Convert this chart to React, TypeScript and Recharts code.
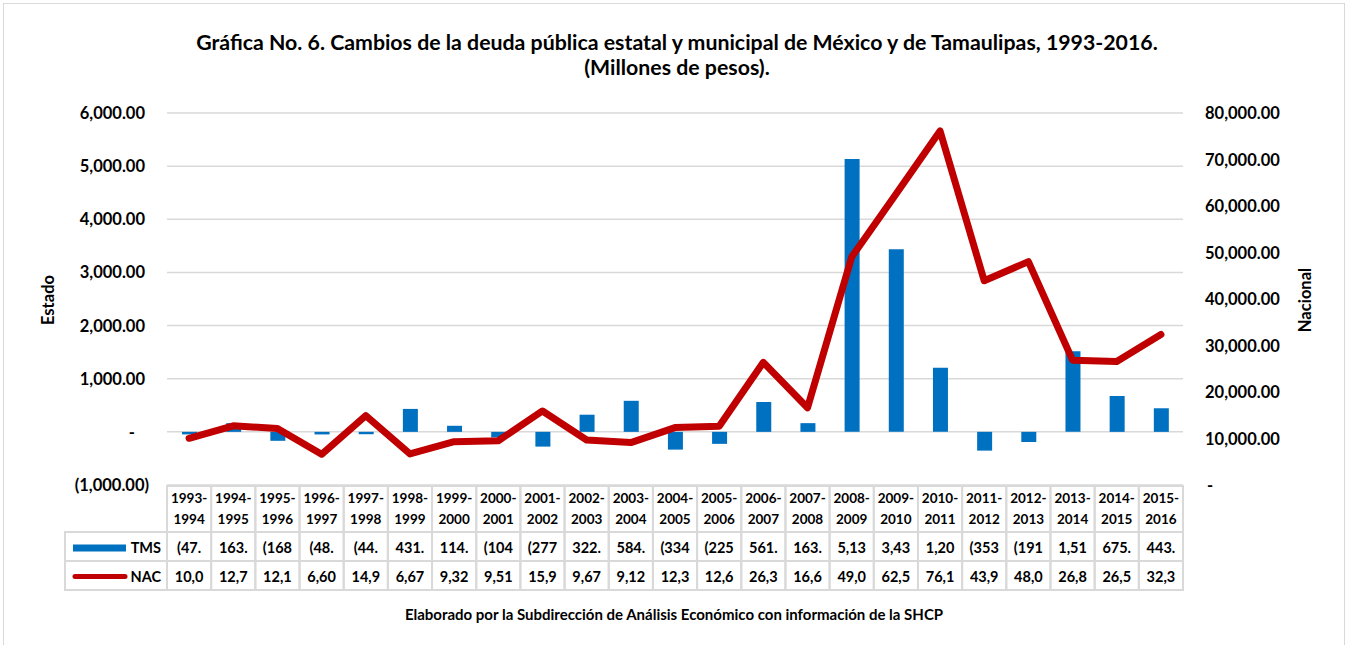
import React from 'react';
import { ComposedChart, Bar, Line, XAxis, YAxis, CartesianGrid } from 'recharts';

const periods = [
  '1993-1994', '1994-1995', '1995-1996', '1996-1997', '1997-1998', '1998-1999',
  '1999-2000', '2000-2001', '2001-2002', '2002-2003', '2003-2004', '2004-2005',
  '2005-2006', '2006-2007', '2007-2008', '2008-2009', '2009-2010', '2010-2011',
  '2011-2012', '2012-2013', '2013-2014', '2014-2015', '2015-2016',
];
const tmsValues = [
  -47.5, 163.2, -168.4, -48.3, -44.6, 431.7, 114.2, -104.3, -277.5, 322.6, 584.3, -334.2,
  -225.8, 561.4, 163.9, 5135.4, 3436.2, 1205.7, -353.1, -191.4, 1515.3, 675.3, 443.8,
];
const nacValues = [
  10050, 12720, 12150, 6605, 14930, 6672, 9325, 9514, 15920, 9674, 9126, 12350,
  12640, 26380, 16620, 49050, 62540, 76150, 43920, 48040, 26850, 26540, 32360,
];
const leftTicks = [-1000, 0, 1000, 2000, 3000, 4000, 5000, 6000];
const rightTicks = [0, 10000, 20000, 30000, 40000, 50000, 60000, 70000, 80000];

const seriesNames = { tms: 'TMS', nac: 'NAC' };
const titleLines = [
  'Gráfica No. 6. Cambios de la deuda pública estatal y municipal de México y de Tamaulipas, 1993-2016.',
  '(Millones de pesos).',
];
const leftAxisTitle = 'Estado';
const rightAxisTitle = 'Nacional';
const footnote = 'Elaborado por la Subdirección de Análisis Económico con información de la SHCP';

const data = periods.map((p, i) => ({ period: p, tms: tmsValues[i], nac: nacValues[i] }));

const W = 1348;
const H = 645;
const M = { top: 113, right: 60, bottom: 55, left: 60 };
const LEFT_AXIS_W = 107;
const RIGHT_AXIS_W = 105;
const PLOT_LEFT = M.left + LEFT_AXIS_W;
const PLOT_RIGHT = W - M.right - RIGHT_AXIS_W;
const COL_W = (PLOT_RIGHT - PLOT_LEFT) / periods.length;
const FONT = 'Lato, "Open Sans", sans-serif';
const BLUE = '#0070C0';
const RED = '#C00000';
const GRID = '#d9d9d9';
const TXT = '#000';

const fmt = (v: number) => {
  const s = Math.abs(v).toLocaleString('en-US', { minimumFractionDigits: 2, maximumFractionDigits: 2 });
  return v < 0 ? `(${s})` : s;
};
const cellText = (v: number) => fmt(v).slice(0, 4);

const LeftTick = (props: any) => {
  const { x, y, payload } = props;
  const v = payload.value as number;
  const dx = v === 0 ? -10 : v < 0 ? 4 : 0;
  return (
    <text x={x + dx} y={y} textAnchor="end" dominantBaseline="central" fontFamily={FONT} fontWeight={700} fontSize={16.5} fill={TXT}>
      {v === 0 ? '-' : fmt(v)}
    </text>
  );
};

const RightTick = (props: any) => {
  const { x, y, payload } = props;
  const v = payload.value as number;
  return (
    <text x={x + (v === 0 ? 2 : 0)} y={y} textAnchor="start" dominantBaseline="central" fontFamily={FONT} fontWeight={700} fontSize={16.5} fill={TXT}>
      {v === 0 ? '-' : fmt(v)}
    </text>
  );
};

const HEAD_H = 46;
const ROW_H = 29;

const TableTick = (props: any) => {
  const { x, y, index, payload } = props;
  const top = y + 1;
  const l = x - COL_W / 2;
  const value = String(payload.value);
  const [a, b] = value.split('-');
  const row = data[index];
  const legendLeft = 65;
  return (
    <g>
      <rect x={l} y={top} width={COL_W} height={HEAD_H} fill="none" stroke={GRID} strokeWidth={2} />
      <rect x={l} y={top + HEAD_H} width={COL_W} height={ROW_H} fill="none" stroke={GRID} strokeWidth={2} />
      <rect x={l} y={top + HEAD_H + ROW_H} width={COL_W} height={ROW_H} fill="none" stroke={GRID} strokeWidth={2} />
      <text x={x} y={top + 12} textAnchor="middle" dominantBaseline="central" fontFamily={FONT} fontWeight={700} fontSize={13.5} fill={TXT}>{a + '-'}</text>
      <text x={x} y={top + 33} textAnchor="middle" dominantBaseline="central" fontFamily={FONT} fontWeight={700} fontSize={13.5} fill={TXT}>{b}</text>
      <text x={x} y={top + HEAD_H + ROW_H / 2 + 1} textAnchor="middle" dominantBaseline="central" fontFamily={FONT} fontWeight={700} fontSize={14.5} fill={TXT}>{cellText(row.tms)}</text>
      <text x={x} y={top + HEAD_H + ROW_H * 1.5 + 1} textAnchor="middle" dominantBaseline="central" fontFamily={FONT} fontWeight={700} fontSize={14.5} fill={TXT}>{cellText(row.nac)}</text>
      {index === 0 && (
        <g>
          <rect x={legendLeft} y={top + HEAD_H} width={l - legendLeft} height={ROW_H} fill="none" stroke={GRID} strokeWidth={2} />
          <rect x={legendLeft} y={top + HEAD_H + ROW_H} width={l - legendLeft} height={ROW_H} fill="none" stroke={GRID} strokeWidth={2} />
          <rect x={73} y={top + HEAD_H + ROW_H / 2 - 2} width={53} height={7} fill={BLUE} />
          <line x1={75} x2={125} y1={top + HEAD_H + ROW_H * 1.5 + 1} y2={top + HEAD_H + ROW_H * 1.5 + 1} stroke={RED} strokeWidth={5} strokeLinecap="round" />
          <text x={l - 6} y={top + HEAD_H + ROW_H / 2 + 1} textAnchor="end" dominantBaseline="central" fontFamily={FONT} fontWeight={700} fontSize={14.5} fill={TXT}>{seriesNames.tms}</text>
          <text x={l - 6} y={top + HEAD_H + ROW_H * 1.5 + 1} textAnchor="end" dominantBaseline="central" fontFamily={FONT} fontWeight={700} fontSize={14.5} fill={TXT}>{seriesNames.nac}</text>
        </g>
      )}
    </g>
  );
};

export default function App() {
  return (
    <div style={{ position: 'absolute', left: 0, top: 0, width: W, height: H, overflow: 'hidden', background: '#fff', fontFamily: FONT }}>
      <div style={{ position: 'absolute', left: 3, top: 3, width: 1342, height: 700, border: `1.5px solid ${GRID}`, boxSizing: 'border-box' }} />
      <div style={{ position: 'absolute', left: 77, top: 30, width: 1200, textAlign: 'center', fontWeight: 700, fontSize: 21.3, lineHeight: '25px', color: TXT }}>
        {titleLines.map((t) => (<div key={t}>{t}</div>))}
      </div>
      <div style={{ position: 'absolute', left: 48 - 50, top: 300 - 10, width: 100, height: 20, lineHeight: '20px', textAlign: 'center', transform: 'rotate(-90deg)', fontWeight: 700, fontSize: 16.5, color: TXT }}>{leftAxisTitle}</div>
      <div style={{ position: 'absolute', left: 1305 - 50, top: 300 - 10, width: 100, height: 20, lineHeight: '20px', textAlign: 'center', transform: 'rotate(-90deg)', fontWeight: 700, fontSize: 16.5, color: TXT }}>{rightAxisTitle}</div>
      <div style={{ position: 'absolute', left: 174, top: 604, width: 1000, textAlign: 'center', fontWeight: 700, fontSize: 15, lineHeight: '20px', color: TXT }}>{footnote}</div>
      <div style={{ position: 'absolute', left: 0, top: 0 }}>
        <ComposedChart width={W} height={H} data={data} margin={M} barCategoryGap="33%">
          <CartesianGrid yAxisId="left" vertical={false} stroke={GRID} strokeWidth={1.5} />
          <XAxis dataKey="period" interval={0} axisLine={false} tickLine={false} tickSize={0} tickMargin={0} height={105} tick={<TableTick />} />
          <YAxis yAxisId="left" orientation="left" width={LEFT_AXIS_W} domain={[-1000, 6000]} ticks={leftTicks} axisLine={false} tickLine={false} tickSize={0} tickMargin={22} tick={<LeftTick />} />
          <YAxis yAxisId="right" orientation="right" width={RIGHT_AXIS_W} domain={[0, 80000]} ticks={rightTicks} axisLine={false} tickLine={false} tickSize={0} tickMargin={22} tick={<RightTick />} />
          <Bar yAxisId="left" dataKey="tms" fill={BLUE} barSize={15} isAnimationActive={false} />
          <Line yAxisId="right" dataKey="nac" stroke={RED} strokeWidth={7} dot={false} strokeLinejoin="round" strokeLinecap="round" type="linear" isAnimationActive={false} />
        </ComposedChart>
      </div>
    </div>
  );
}
